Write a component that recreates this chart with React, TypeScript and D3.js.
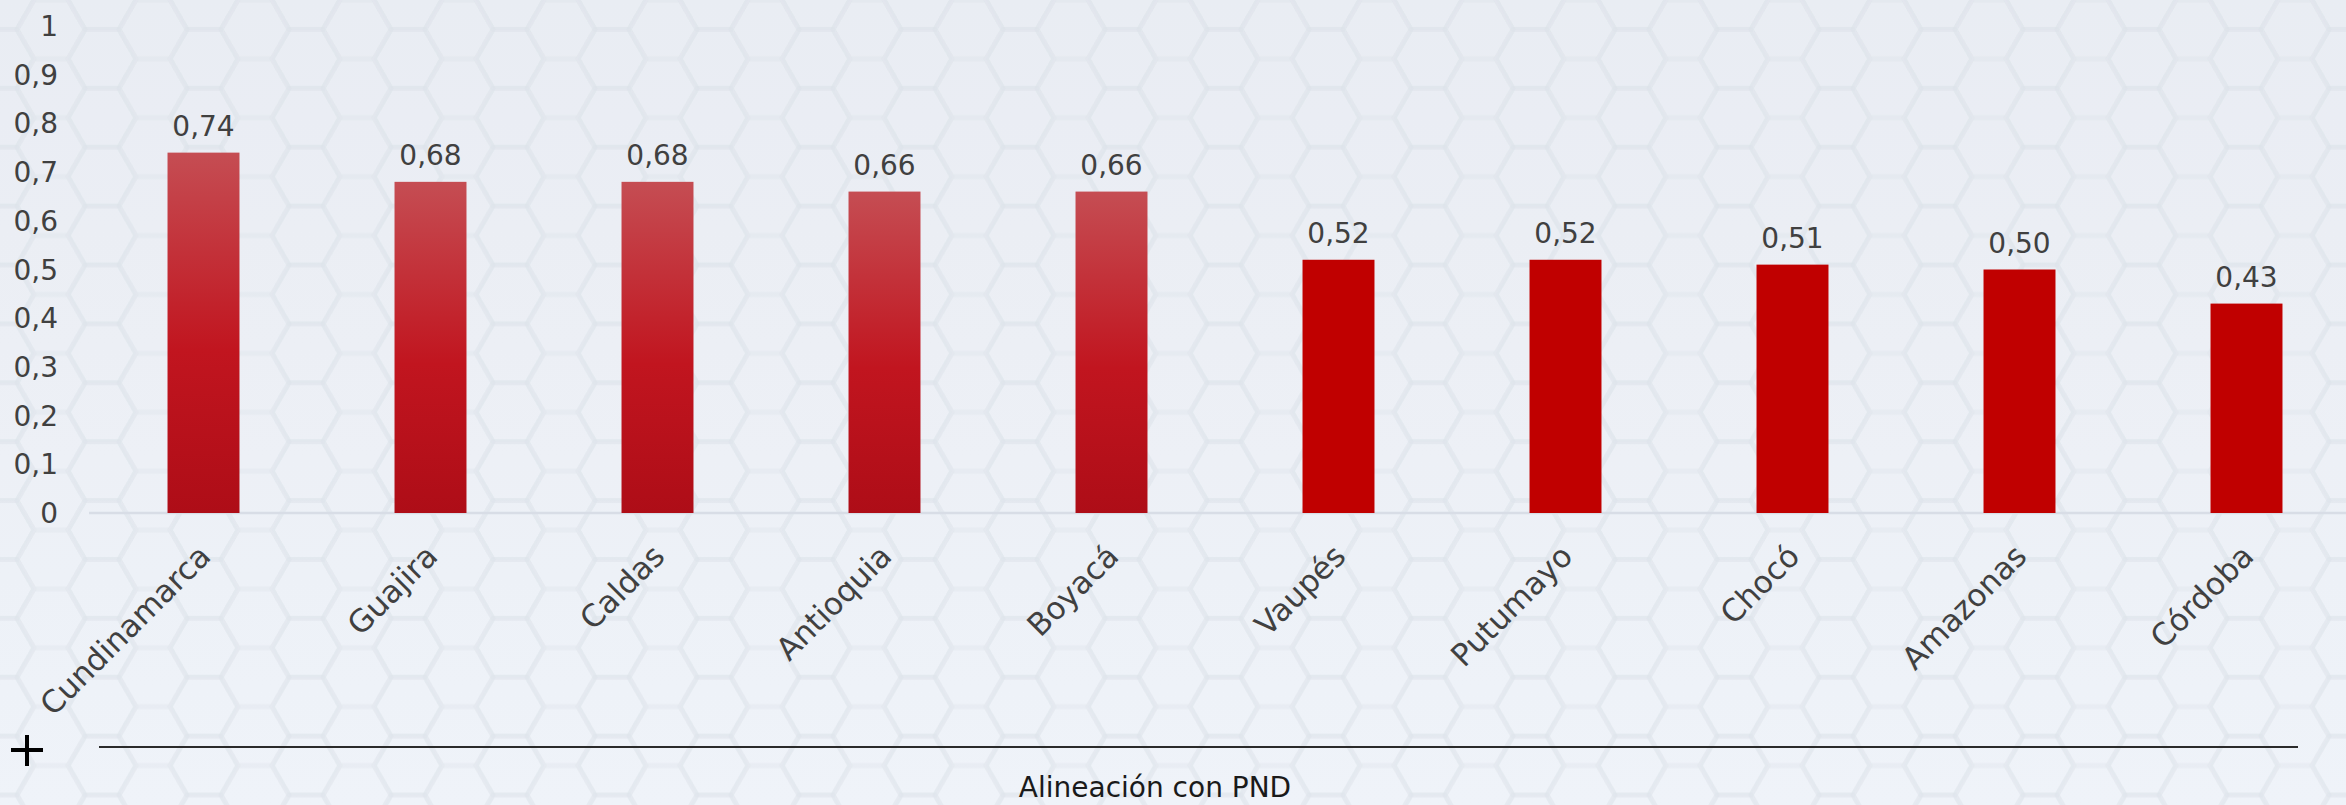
import React from "react";
import * as d3 from "d3";

const departments = [
  "Cundinamarca", "Guajira", "Caldas", "Antioquia", "Boyacá",
  "Vaupés", "Putumayo", "Chocó", "Amazonas", "Córdoba",
];
const alignment = [0.74, 0.68, 0.68, 0.66, 0.66, 0.52, 0.52, 0.51, 0.5, 0.43];
// first five bars drawn with the shaded gradient, the rest flat red
const shaded = [true, true, true, true, true, false, false, false, false, false];
const yTicks = [0, 0.1, 0.2, 0.3, 0.4, 0.5, 0.6, 0.7, 0.8, 0.9, 1];
const axisTitle = "Alineación con PND";

const W = 2346;
const H = 805;
const FONT = "'Century Gothic', 'DejaVu Sans', sans-serif";

const fmt = (v: number) => (v === 0 || v === 1 ? String(v) : v.toFixed(1).replace(".", ","));
const fmt2 = (v: number) => v.toFixed(2).replace(".", ",");

export default function App() {
  const x = d3.scaleBand<string>()
    .domain(departments)
    .range([90, 2360])
    .paddingInner(0.683)
    .paddingOuter(0.3415);

  const y = d3.scaleLinear().domain([0, 1]).range([513, 26]);

  // hexagon background tile
  const r = 34;
  const hh = (Math.sqrt(3) / 2) * r;
  const hex = (cx: number, cy: number) =>
    d3.range(6).map(i => {
      const a = (Math.PI / 3) * i;
      return [cx + r * Math.cos(a), cy + r * Math.sin(a)].join(",");
    }).join(" ");

  return (
    <svg width={W} height={H} style={{ position: "absolute", left: 0, top: 0, display: "block" }}>
      <defs>
        <linearGradient id="bg" x1="0" y1="0" x2="0" y2="1">
          <stop offset="0%" stopColor="#e6eaf1" />
          <stop offset="100%" stopColor="#edf1f8" />
        </linearGradient>
        <pattern id="hex" width={3 * r} height={2 * hh} patternUnits="userSpaceOnUse">
          <g fill="#ffffff" fillOpacity={0.12} stroke="#d8dde6" strokeOpacity={0.28} strokeWidth={5}>
            <polygon points={hex(0, 0)} />
            <polygon points={hex(0, 2 * hh)} />
            <polygon points={hex(3 * r, 0)} />
            <polygon points={hex(3 * r, 2 * hh)} />
            <polygon points={hex(1.5 * r, hh)} />
          </g>
        </pattern>
        <linearGradient id="barGrad" x1="0" y1="0" x2="0" y2="1">
          <stop offset="0%" stopColor="#c54d53" />
          <stop offset="55%" stopColor="#c1151f" />
          <stop offset="100%" stopColor="#ae0d17" />
        </linearGradient>
      </defs>

      <rect width={W} height={H} fill="url(#bg)" />
      <rect width={W} height={H} fill="url(#hex)" />

      {/* baseline */}
      <line x1={89} x2={W} y1={y(0)} y2={y(0)} stroke="#d8dde6" strokeWidth={2.5} />

      {/* y axis labels */}
      <g fontFamily={FONT} fontSize={28} fill="#404040" textAnchor="end">
        {yTicks.map(t => (
          <text key={t} x={58} y={y(t)} dy="0.36em">{fmt(t)}</text>
        ))}
      </g>

      {/* bars */}
      {departments.map((d, i) => (
        <rect
          key={d}
          x={x(d)}
          y={y(alignment[i])}
          width={x.bandwidth()}
          height={y(0) - y(alignment[i])}
          fill={shaded[i] ? "url(#barGrad)" : "#c00000"}
        />
      ))}

      {/* value labels */}
      <g fontFamily={FONT} fontSize={28} fill="#404040" textAnchor="middle">
        {departments.map((d, i) => (
          <text key={d} x={(x(d) ?? 0) + x.bandwidth() / 2} y={y(alignment[i]) - 17}>
            {fmt2(alignment[i])}
          </text>
        ))}
      </g>

      {/* category labels */}
      <g fontFamily={FONT} fontSize={31} fill="#404040" textAnchor="end">
        {departments.map(d => {
          const cx = (x(d) ?? 0) + x.bandwidth() / 2 + 9;
          const cy = 558;
          return (
            <text key={d} x={cx} y={cy} transform={`rotate(-45, ${cx}, ${cy})`}>{d}</text>
          );
        })}
      </g>

      {/* axis title with rule and plus marker */}
      <line x1={99} x2={2298} y1={747} y2={747} stroke="#2b2b2b" strokeWidth={2} />
      <g stroke="#000" strokeWidth={4}>
        <line x1={11} x2={43} y1={750} y2={750} />
        <line x1={27} x2={27} y1={735} y2={766} />
      </g>
      <text x={1155} y={797} fontFamily={FONT} fontSize={28} fill="#1a1a1a" textAnchor="middle">
        {axisTitle}
      </text>
    </svg>
  );
}
